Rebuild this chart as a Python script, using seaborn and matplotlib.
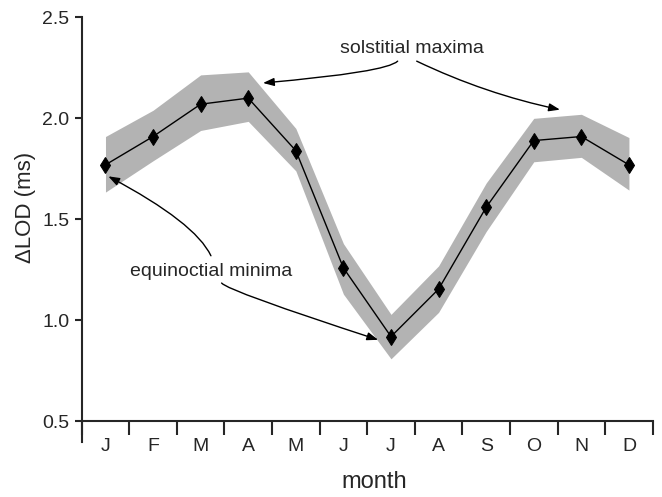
import numpy as np
import pandas as pd
import matplotlib
matplotlib.use("Agg")
import matplotlib.pyplot as plt
import seaborn as sns

months = ["J", "F", "M", "A", "M", "J", "J", "A", "S", "O", "N", "D"]
lod = [1.77, 1.91, 2.07, 2.10, 1.84, 1.26, 0.92, 1.155, 1.56, 1.89, 1.91, 1.77]
band_low = [1.635, 1.79, 1.94, 1.985, 1.74, 1.13, 0.81, 1.04, 1.44, 1.785, 1.807, 1.645]
band_high = [1.91, 2.04, 2.215, 2.23, 1.95, 1.38, 1.03, 1.27, 1.68, 2.00, 2.02, 1.905]
yticks = [0.5, 1.0, 1.5, 2.0, 2.5]

sns.set_style("ticks")
plt.rcParams['font.family'] = ['Liberation Sans', 'DejaVu Sans']

df = pd.DataFrame({"idx": np.arange(len(months)), "lod": lod})

fig = plt.figure(figsize=(6.62, 4.97), dpi=100)
ax = fig.add_axes([0.1234, 0.1113, 0.8626, 0.8539])

ax.fill_between(df["idx"], band_low, band_high, color="#b3b3b3", lw=0, zorder=1)
sns.lineplot(data=df, x="idx", y="lod", ax=ax, color="black", lw=1.0,
             marker="d", markersize=8, markeredgecolor="black", zorder=3)

ax.set_xlim(-0.5, len(months) - 0.5)
ax.set_ylim(0.4, 2.5)
ax.set_yticks(yticks)
ax.set_yticklabels([f"{v:.1f}" for v in yticks])

# x: ticks at boundaries, labels at centers
ax.set_xticks(np.arange(-0.5, len(months), 1.0))
ax.set_xticklabels([])
ax.set_xticks(np.arange(len(months)), minor=True)
ax.set_xticklabels(months, minor=True)
ax.tick_params(axis="x", which="major", length=10, width=1.5, direction="out")
ax.tick_params(axis="x", which="minor", length=0, pad=12, labelsize=14)
ax.tick_params(axis="y", length=5, width=1.5, direction="out", pad=4, labelsize=14)

for s in ["top", "right"]:
    ax.spines[s].set_visible(False)
ax.spines["bottom"].set_position(("data", 0.5))
ax.spines["left"].set_linewidth(1.5)
ax.spines["bottom"].set_linewidth(1.5)

ax.set_xlabel("month", fontsize=17)
ax.xaxis.label.set_verticalalignment("center")
ax.xaxis.set_label_coords(0.512, -0.094)
ax.set_ylabel("ΔLOD (ms)", fontsize=16)
ax.yaxis.label.set_verticalalignment("center")
ax.yaxis.set_label_coords(-0.098, 0.551)

# annotations
ax.text(6.43, 2.344, "solstitial maxima", ha="center", va="center", fontsize=14)
ax.text(2.23, 1.243, "equinoctial minima", ha="center", va="center", fontsize=14)

def arrow(tail, head, conn):
    ax.annotate("", xy=head, xytext=tail,
                arrowprops=dict(arrowstyle="-|>,head_length=0.55,head_width=0.2",
                                color="black", lw=1.0,
                                mutation_scale=12, shrinkA=0, shrinkB=0,
                                connectionstyle=conn), zorder=4)

arrow((6.14, 2.283), (3.31, 2.175), "angle3,angleA=45,angleB=5")
arrow((6.54, 2.283), (9.55, 2.043), "arc3,rad=0.06")
arrow((2.216, 1.32), (0.06, 1.713), "angle3,angleA=115,angleB=152")
arrow((2.44, 1.185), (5.73, 0.904), "angle3,angleA=-50,angleB=-18")

fig.savefig("out.png", dpi=100)
